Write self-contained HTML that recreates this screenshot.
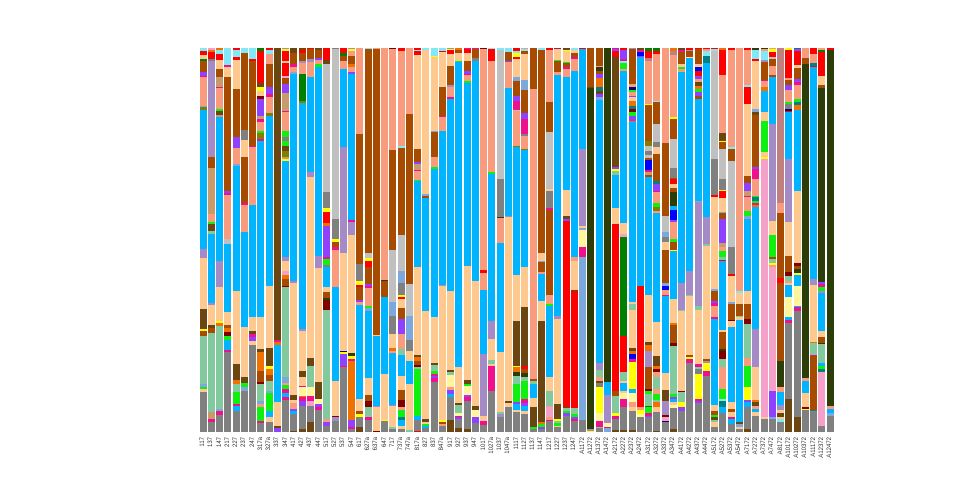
<!DOCTYPE html>
<html><head><meta charset="utf-8"><style>
body{margin:0;background:#fff;width:960px;height:480px;overflow:hidden;position:relative;font-family:"Liberation Sans",sans-serif}
#ch{position:absolute;left:199.7px;top:48px;display:grid;grid-template-columns:repeat(77,8.265px)}
.c{position:relative;height:383.7px}
.c>div{width:7px;height:383.7px;display:flex;flex-direction:column}
.c i{display:block;min-height:0}
.c span{position:absolute;top:388.5px;left:3.5px;writing-mode:vertical-rl;transform:translateX(-50%) rotate(180deg);font-size:6px;line-height:6px;color:#333;white-space:nowrap}
.g{background:#808080}.b{background:#00b4ff}.p{background:#fec98e}.s{background:#f99b7d}.o{background:#a64b00}.d{background:#6b4610}.e{background:#82c99e}.l{background:#a58bc5}.y{background:#c0c0c0}.t{background:#c89b6d}.r{background:#ff0000}.gr{background:#008000}.n{background:#10f010}.u{background:#9040ff}.m{background:#f0108c}.or{background:#f07000}.k{background:#2c3d07}.c{background:transparent}.cy{background:#80e8f6}.yw{background:#ffff00}.py{background:#fff59a}.pk{background:#f5a0c8}.dr{background:#800000}.ol{background:#808000}.cf{background:#7ca8dc}.bl{background:#0000ff}.tl{background:#008080}.rb{background:#c08080}.nv{background:#000080}
</style></head><body>
<div id="ch">
<div class=c><div><i class=cy style=flex:10></i><i class=r style=flex:10></i><i class=p style=flex:13></i><i class=gr style=flex:5></i><i class=o style=flex:35></i><i class=u style=flex:10></i><i class=m style=flex:5></i><i class=s style=flex:85></i><i class=cf style=flex:5></i><i class=ol style=flex:8></i><i class=b style=flex:417></i><i class=l style=flex:27></i><i class=p style=flex:153></i><i class=d style=flex:60></i><i class=yw style=flex:7></i><i class=o style=flex:13></i><i class=e style=flex:145></i><i class=cf style=flex:10></i><i class=n style=flex:5></i><i class=p style=flex:8></i><i class=g style=flex:120></i></div><span>117</span></div>
<div class=c><div><i class=pk style=flex:6></i><i class=or style=flex:7></i><i class=r style=flex:20></i><i class=g style=flex:5></i><i class=l style=flex:290></i><i class=o style=flex:32></i><i class=t style=flex:138></i><i class=s style=flex:25></i><i class=n style=flex:5></i><i class=d style=flex:20></i><i class=e style=flex:10></i><i class=b style=flex:208></i><i class=l style=flex:5></i><i class=p style=flex:60></i><i class=d style=flex:9></i><i class=o style=flex:15></i><i class=e style=flex:238></i><i class=t style=flex:20></i><i class=m style=flex:10></i><i class=g style=flex:28></i></div><span>137</span></div>
<div class=c><div><i class=or style=flex:6></i><i class=cy style=flex:12></i><i class=r style=flex:18></i><i class=p style=flex:27></i><i class=o style=flex:25></i><i class=t style=flex:28></i><i class=m style=flex:5></i><i class=s style=flex:62></i><i class=n style=flex:5></i><i class=d style=flex:13></i><i class=t style=flex:7></i><i class=b style=flex:430></i><i class=l style=flex:80></i><i class=p style=flex:100></i><i class=yw style=flex:8></i><i class=or style=flex:7></i><i class=e style=flex:250></i><i class=cf style=flex:5></i><i class=m style=flex:12></i><i class=g style=flex:51></i></div><span>147</span></div>
<div class=c><div><i class=cy style=flex:50></i><i class=m style=flex:8></i><i class=p style=flex:30></i><i class=o style=flex:340></i><i class=u style=flex:7></i><i class=m style=flex:6></i><i class=s style=flex:132></i><i class=y style=flex:15></i><i class=b style=flex:205></i><i class=p style=flex:38></i><i class=o style=flex:9></i><i class=or style=flex:13></i><i class=dr style=flex:10></i><i class=n style=flex:13></i><i class=b style=flex:30></i><i class=m style=flex:7></i><i class=g style=flex:238></i></div><span>217</span></div>
<div class=c><div><i class=r style=flex:6></i><i class=cy style=flex:20></i><i class=r style=flex:10></i><i class=p style=flex:87></i><i class=o style=flex:145></i><i class=u style=flex:32></i><i class=s style=flex:48></i><i class=cf style=flex:5></i><i class=b style=flex:375></i><i class=p style=flex:220></i><i class=d style=flex:48></i><i class=or style=flex:12></i><i class=e style=flex:23></i><i class=n style=flex:37></i><i class=m style=flex:5></i><i class=b style=flex:15></i><i class=g style=flex:63></i></div><span>227</span></div>
<div class=c><div><i class=cy style=flex:16></i><i class=o style=flex:230></i><i class=g style=flex:30></i><i class=p style=flex:52></i><i class=o style=flex:138></i><i class=m style=flex:5></i><i class=s style=flex:80></i><i class=b style=flex:285></i><i class=p style=flex:152></i><i class=d style=flex:18></i><i class=n style=flex:12></i><i class=cf style=flex:12></i><i class=g style=flex:121></i></div><span>237</span></div>
<div class=c><div><i class=cy style=flex:33></i><i class=r style=flex:7></i><i class=o style=flex:253></i><i class=m style=flex:5></i><i class=s style=flex:173></i><i class=b style=flex:337></i><i class=p style=flex:40></i><i class=d style=flex:10></i><i class=m style=flex:10></i><i class=u style=flex:10></i><i class=p style=flex:13></i><i class=g style=flex:260></i></div><span>247</span></div>
<div class=c><div><i class=gr style=flex:10></i><i class=r style=flex:96></i><i class=d style=flex:10></i><i class=yw style=flex:12></i><i class=p style=flex:15></i><i class=dr style=flex:10></i><i class=u style=flex:50></i><i class=t style=flex:10></i><i class=m style=flex:10></i><i class=s style=flex:25></i><i class=n style=flex:8></i><i class=ol style=flex:17></i><i class=m style=flex:7></i><i class=b style=flex:528></i><i class=p style=flex:95></i><i class=d style=flex:10></i><i class=or style=flex:55></i><i class=o style=flex:35></i><i class=dr style=flex:5></i><i class=e style=flex:52></i><i class=cf style=flex:8></i><i class=s style=flex:10></i><i class=n style=flex:40></i><i class=m style=flex:8></i><i class=g style=flex:25></i></div><span>317a</span></div>
<div class=c><div><i class=r style=flex:6></i><i class=cy style=flex:12></i><i class=s style=flex:30></i><i class=o style=flex:70></i><i class=u style=flex:20></i><i class=m style=flex:10></i><i class=s style=flex:48></i><i class=ol style=flex:7></i><i class=b style=flex:510></i><i class=p style=flex:187></i><i class=d style=flex:53></i><i class=yw style=flex:10></i><i class=or style=flex:17></i><i class=o style=flex:18></i><i class=e style=flex:30></i><i class=cf style=flex:7></i><i class=n style=flex:53></i><i class=b style=flex:18></i><i class=p style=flex:17></i><i class=g style=flex:28></i></div><span>327a</span></div>
<div class=c><div><i class=d style=flex:876></i><i class=m style=flex:7></i><i class=or style=flex:8></i><i class=b style=flex:172></i><i class=p style=flex:70></i><i class=d style=flex:8></i><i class=u style=flex:10></i></div><span>337</span></div>
<div class=c><div><i class=l style=flex:3></i><i class=yw style=flex:5></i><i class=r style=flex:32></i><i class=p style=flex:6></i><i class=r style=flex:37></i><i class=pk style=flex:8></i><i class=o style=flex:17></i><i class=u style=flex:28></i><i class=t style=flex:52></i><i class=m style=flex:5></i><i class=s style=flex:55></i><i class=n style=flex:20></i><i class=g style=flex:10></i><i class=n style=flex:15></i><i class=d style=flex:15></i><i class=ol style=flex:20></i><i class=t style=flex:5></i><i class=yw style=flex:7></i><i class=b style=flex:288></i><i class=l style=flex:12></i><i class=p style=flex:30></i><i class=pk style=flex:10></i><i class=or style=flex:13></i><i class=o style=flex:20></i><i class=dr style=flex:5></i><i class=e style=flex:270></i><i class=cf style=flex:18></i><i class=s style=flex:4></i><i class=n style=flex:13></i><i class=m style=flex:13></i><i class=b style=flex:10></i><i class=m style=flex:10></i><i class=g style=flex:95></i></div><span>347</span></div>
<div class=c><div><i class=d style=flex:16></i><i class=o style=flex:32></i><i class=m style=flex:8></i><i class=s style=flex:17></i><i class=cf style=flex:5></i><i class=b style=flex:620></i><i class=l style=flex:8></i><i class=p style=flex:335></i><i class=d style=flex:15></i><i class=p style=flex:10></i><i class=s style=flex:17></i><i class=u style=flex:5></i><i class=b style=flex:10></i><i class=g style=flex:50></i><i class=d style=flex:3></i></div><span>417</span></div>
<div class=c><div><i class=gr style=flex:3></i><i class=r style=flex:13></i><i class=o style=flex:22></i><i class=l style=flex:8></i><i class=s style=flex:32></i><i class=gr style=flex:82></i><i class=ol style=flex:6></i><i class=b style=flex:677></i><i class=l style=flex:7></i><i class=p style=flex:118></i><i class=d style=flex:20></i><i class=p style=flex:25></i><i class=m style=flex:5></i><i class=py style=flex:25></i><i class=or style=flex:5></i><i class=m style=flex:10></i><i class=u style=flex:15></i><i class=g style=flex:70></i><i class=d style=flex:8></i></div><span>427</span></div>
<div class=c><div><i class=r style=flex:3></i><i class=o style=flex:30></i><i class=l style=flex:10></i><i class=s style=flex:45></i><i class=b style=flex:285></i><i class=l style=flex:13></i><i class=p style=flex:544></i><i class=d style=flex:23></i><i class=e style=flex:63></i><i class=py style=flex:29></i><i class=m style=flex:13></i><i class=pk style=flex:15></i><i class=g style=flex:50></i><i class=d style=flex:28></i></div><span>437</span></div>
<div class=c><div><i class=d style=flex:6></i><i class=o style=flex:24></i><i class=u style=flex:6></i><i class=s style=flex:12></i><i class=n style=flex:8></i><i class=b style=flex:567></i><i class=l style=flex:37></i><i class=p style=flex:343></i><i class=d style=flex:50></i><i class=py style=flex:15></i><i class=u style=flex:10></i><i class=m style=flex:8></i><i class=g style=flex:65></i></div><span>447</span></div>
<div class=c><div><i class=r style=flex:36></i><i class=d style=flex:12></i><i class=y style=flex:385></i><i class=g style=flex:47></i><i class=yw style=flex:11></i><i class=r style=flex:35></i><i class=or style=flex:7></i><i class=u style=flex:95></i><i class=m style=flex:5></i><i class=n style=flex:17></i><i class=g style=flex:6></i><i class=b style=flex:62></i><i class=p style=flex:13></i><i class=o style=flex:19></i><i class=k style=flex:6></i><i class=dr style=flex:30></i><i class=e style=flex:327></i><i class=s style=flex:10></i><i class=u style=flex:10></i><i class=g style=flex:18></i></div><span>517</span></div>
<div class=c><div><i class=g style=flex:3></i><i class=y style=flex:510></i><i class=g style=flex:60></i><i class=yw style=flex:10></i><i class=o style=flex:15></i><i class=m style=flex:7></i><i class=s style=flex:113></i><i class=b style=flex:282></i><i class=p style=flex:103></i><i class=dr style=flex:5></i><i class=l style=flex:10></i><i class=g style=flex:33></i></div><span>527</span></div>
<div class=c><div><i class=r style=flex:16></i><i class=gr style=flex:7></i><i class=o style=flex:17></i><i class=s style=flex:23></i><i class=b style=flex:235></i><i class=l style=flex:318></i><i class=p style=flex:292></i><i class=nv style=flex:5></i><i class=yw style=flex:5></i><i class=u style=flex:35></i><i class=m style=flex:5></i><i class=g style=flex:193></i></div><span>537</span></div>
<div class=c><div><i class=l style=flex:3></i><i class=yw style=flex:7></i><i class=s style=flex:13></i><i class=o style=flex:25></i><i class=or style=flex:10></i><i class=s style=flex:15></i><i class=u style=flex:5></i><i class=b style=flex:438></i><i class=m style=flex:5></i><i class=l style=flex:40></i><i class=p style=flex:355></i><i class=k style=flex:7></i><i class=yw style=flex:10></i><i class=m style=flex:7></i><i class=or style=flex:176></i><i class=u style=flex:22></i><i class=m style=flex:5></i><i class=g style=flex:8></i></div><span>547</span></div>
<div class=c><div><i class=s style=flex:258></i><i class=o style=flex:390></i><i class=g style=flex:52></i><i class=yw style=flex:10></i><i class=r style=flex:6></i><i class=o style=flex:40></i><i class=u style=flex:7></i><i class=s style=flex:7></i><i class=b style=flex:283></i><i class=p style=flex:35></i><i class=o style=flex:10></i><i class=yw style=flex:10></i><i class=g style=flex:28></i><i class=d style=flex:15></i></div><span>617</span></div>
<div class=c><div><i class=cy style=flex:3></i><i class=o style=flex:613></i><i class=y style=flex:14></i><i class=yw style=flex:8></i><i class=r style=flex:18></i><i class=o style=flex:52></i><i class=u style=flex:5></i><i class=m style=flex:7></i><i class=s style=flex:53></i><i class=n style=flex:8></i><i class=cf style=flex:7></i><i class=b style=flex:202></i><i class=p style=flex:50></i><i class=o style=flex:18></i><i class=dr style=flex:18></i><i class=e style=flex:32></i><i class=m style=flex:8></i><i class=g style=flex:35></i></div><span>627a</span></div>
<div class=c><div><i class=s style=flex:3></i><i class=o style=flex:857></i><i class=p style=flex:3></i><i class=b style=flex:210></i><i class=l style=flex:5></i><i class=p style=flex:70></i><i class=dr style=flex:3></i></div><span>637a</span></div>
<div class=c><div><i class=s style=flex:696></i><i class=k style=flex:4></i><i class=o style=flex:48></i><i class=b style=flex:230></i><i class=p style=flex:138></i><i class=yw style=flex:4></i><i class=g style=flex:31></i></div><span>647</span></div>
<div class=c><div><i class=dr style=flex:3></i><i class=s style=flex:303></i><i class=o style=flex:300></i><i class=y style=flex:155></i><i class=cf style=flex:42></i><i class=g style=flex:55></i><i class=p style=flex:42></i><i class=or style=flex:8></i><i class=s style=flex:7></i><i class=b style=flex:156></i><i class=l style=flex:2></i><i class=p style=flex:65></i><i class=e style=flex:5></i><i class=g style=flex:8></i></div><span>717</span></div>
<div class=c><div><i class=r style=flex:10></i><i class=s style=flex:283></i><i class=cy style=flex:7></i><i class=o style=flex:260></i><i class=y style=flex:108></i><i class=cf style=flex:37></i><i class=g style=flex:35></i><i class=yw style=flex:8></i><i class=r style=flex:5></i><i class=p style=flex:27></i><i class=o style=flex:33></i><i class=u style=flex:45></i><i class=s style=flex:45></i><i class=e style=flex:17></i><i class=b style=flex:63></i><i class=p style=flex:43></i><i class=o style=flex:30></i><i class=dr style=flex:20></i><i class=s style=flex:10></i><i class=n style=flex:22></i><i class=tl style=flex:8></i><i class=b style=flex:17></i><i class=p style=flex:10></i><i class=g style=flex:8></i></div><span>737a</span></div>
<div class=c><div><i class=s style=flex:198></i><i class=o style=flex:510></i><i class=y style=flex:95></i><i class=cf style=flex:73></i><i class=g style=flex:34></i><i class=p style=flex:30></i><i class=b style=flex:68></i><i class=p style=flex:138></i><i class=e style=flex:5></i></div><span>747a</span></div>
<div class=c><div><i class=r style=flex:6></i><i class=cy style=flex:4></i><i class=r style=flex:10></i><i class=p style=flex:283></i><i class=o style=flex:38></i><i class=u style=flex:7></i><i class=t style=flex:18></i><i class=m style=flex:4></i><i class=s style=flex:25></i><i class=n style=flex:5></i><i class=b style=flex:258></i><i class=p style=flex:263></i><i class=d style=flex:5></i><i class=or style=flex:12></i><i class=o style=flex:12></i><i class=dr style=flex:6></i><i class=e style=flex:7></i><i class=n style=flex:140></i><i class=b style=flex:13></i><i class=g style=flex:32></i><i class=r style=flex:3></i></div><span>817a</span></div>
<div class=c><div><i class=cy style=flex:6></i><i class=p style=flex:432></i><i class=cf style=flex:5></i><i class=o style=flex:7></i><i class=b style=flex:340></i><i class=p style=flex:323></i><i class=d style=flex:10></i><i class=p style=flex:5></i><i class=n style=flex:5></i><i class=b style=flex:7></i><i class=g style=flex:11></i></div><span>827</span></div>
<div class=c><div><i class=cy style=flex:23></i><i class=yw style=flex:5></i><i class=p style=flex:222></i><i class=cf style=flex:3></i><i class=o style=flex:75></i><i class=s style=flex:28></i><i class=n style=flex:7></i><i class=b style=flex:443></i><i class=p style=flex:140></i><i class=d style=flex:4></i><i class=e style=flex:18></i><i class=n style=flex:10></i><i class=m style=flex:5></i><i class=u style=flex:8></i><i class=m style=flex:10></i><i class=g style=flex:150></i></div><span>837</span></div>
<div class=c><div><i class=cy style=flex:10></i><i class=r style=flex:3></i><i class=p style=flex:103></i><i class=o style=flex:87></i><i class=m style=flex:5></i><i class=s style=flex:40></i><i class=b style=flex:462></i><i class=l style=flex:3></i><i class=p style=flex:403></i><i class=yw style=flex:7></i><i class=o style=flex:5></i><i class=s style=flex:5></i><i class=g style=flex:18></i></div><span>847a</span></div>
<div class=c><div><i class=l style=flex:3></i><i class=yw style=flex:3></i><i class=r style=flex:12></i><i class=p style=flex:35></i><i class=o style=flex:57></i><i class=l style=flex:6></i><i class=s style=flex:32></i><i class=m style=flex:5></i><i class=b style=flex:577></i><i class=p style=flex:236></i><i class=d style=flex:7></i><i class=e style=flex:7></i><i class=py style=flex:36></i><i class=s style=flex:10></i><i class=u style=flex:12></i><i class=b style=flex:8></i><i class=g style=flex:70></i><i class=d style=flex:35></i></div><span>917</span></div>
<div class=c><div><i class=or style=flex:6></i><i class=o style=flex:10></i><i class=p style=flex:22></i><i class=n style=flex:3></i><i class=b style=flex:917></i><i class=p style=flex:108></i><i class=d style=flex:5></i><i class=e style=flex:25></i><i class=py style=flex:7></i><i class=m style=flex:3></i><i class=u style=flex:7></i><i class=g style=flex:27></i><i class=d style=flex:11></i></div><span>927</span></div>
<div class=c><div><i class=m style=flex:3></i><i class=r style=flex:13></i><i class=p style=flex:24></i><i class=o style=flex:30></i><i class=u style=flex:8></i><i class=m style=flex:2></i><i class=s style=flex:20></i><i class=n style=flex:6></i><i class=b style=flex:547></i><i class=p style=flex:343></i><i class=d style=flex:12></i><i class=n style=flex:5></i><i class=py style=flex:27></i><i class=u style=flex:6></i><i class=m style=flex:14></i><i class=g style=flex:83></i><i class=d style=flex:8></i></div><span>937</span></div>
<div class=c><div><i class=m style=flex:3></i><i class=o style=flex:27></i><i class=g style=flex:8></i><i class=b style=flex:662></i><i class=p style=flex:373></i><i class=d style=flex:13></i><i class=py style=flex:22></i><i class=u style=flex:18></i><i class=g style=flex:25></i></div><span>947</span></div>
<div class=c><div><i class=dr style=flex:3></i><i class=s style=flex:663></i><i class=r style=flex:10></i><i class=s style=flex:50></i><i class=b style=flex:192></i><i class=l style=flex:185></i><i class=p style=flex:15></i><i class=m style=flex:13></i><i class=g style=flex:20></i></div><span>1017</span></div>
<div class=c><div><i class=cy style=flex:3></i><i class=r style=flex:35></i><i class=s style=flex:333></i><i class=n style=flex:7></i><i class=b style=flex:442></i><i class=l style=flex:53></i><i class=p style=flex:63></i><i class=e style=flex:12></i><i class=p style=flex:5></i><i class=m style=flex:75></i><i class=g style=flex:123></i></div><span>1027a</span></div>
<div class=c><div><i class=cy style=flex:6></i><i class=y style=flex:387></i><i class=g style=flex:113></i><i class=k style=flex:4></i><i class=s style=flex:76></i><i class=b style=flex:327></i><i class=p style=flex:180></i><i class=e style=flex:5></i><i class=l style=flex:10></i><i class=g style=flex:43></i></div><span>1037</span></div>
<div class=c><div><i class=cy style=flex:13></i><i class=o style=flex:25></i><i class=u style=flex:5></i><i class=s style=flex:77></i><i class=b style=flex:383></i><i class=l style=flex:5></i><i class=p style=flex:552></i><i class=d style=flex:6></i><i class=p style=flex:10></i><i class=g style=flex:75></i></div><span>1047a</span></div>
<div class=c><div><i class=r style=flex:10></i><i class=cy style=flex:6></i><i class=yw style=flex:10></i><i class=r style=flex:7></i><i class=p style=flex:53></i><i class=cf style=flex:14></i><i class=o style=flex:43></i><i class=u style=flex:15></i><i class=m style=flex:28></i><i class=y style=flex:4></i><i class=s style=flex:103></i><i class=ol style=flex:5></i><i class=b style=flex:382></i><i class=p style=flex:138></i><i class=d style=flex:135></i><i class=yw style=flex:5></i><i class=or style=flex:15></i><i class=k style=flex:10></i><i class=e style=flex:25></i><i class=n style=flex:55></i><i class=u style=flex:5></i><i class=b style=flex:18></i><i class=p style=flex:7></i><i class=g style=flex:58></i></div><span>1117</span></div>
<div class=c><div><i class=s style=flex:3></i><i class=cy style=flex:7></i><i class=o style=flex:8></i><i class=p style=flex:78></i><i class=cf style=flex:30></i><i class=o style=flex:70></i><i class=u style=flex:17></i><i class=m style=flex:45></i><i class=g style=flex:5></i><i class=s style=flex:40></i><i class=ol style=flex:3></i><i class=b style=flex:350></i><i class=p style=flex:122></i><i class=d style=flex:175></i><i class=r style=flex:10></i><i class=o style=flex:13></i><i class=k style=flex:12></i><i class=e style=flex:12></i><i class=n style=flex:53></i><i class=m style=flex:13></i><i class=u style=flex:7></i><i class=b style=flex:15></i><i class=p style=flex:10></i><i class=g style=flex:53></i></div><span>1127</span></div>
<div class=c><div><i class=o style=flex:123></i><i class=s style=flex:870></i><i class=o style=flex:7></i><i class=e style=flex:8></i><i class=b style=flex:42></i><i class=p style=flex:26></i><i class=d style=flex:62></i><i class=n style=flex:5></i><i class=g style=flex:8></i></div><span>1137</span></div>
<div class=c><div><i class=cy style=flex:6></i><i class=o style=flex:610></i><i class=p style=flex:22></i><i class=cf style=flex:5></i><i class=o style=flex:30></i><i class=s style=flex:5></i><i class=b style=flex:80></i><i class=p style=flex:60></i><i class=d style=flex:305></i><i class=or style=flex:5></i><i class=n style=flex:10></i><i class=u style=flex:5></i><i class=g style=flex:8></i></div><span>1147</span></div>
<div class=c><div><i class=r style=flex:6></i><i class=s style=flex:157></i><i class=o style=flex:90></i><i class=y style=flex:170></i><i class=p style=flex:5></i><i class=g style=flex:52></i><i class=m style=flex:5></i><i class=o style=flex:255></i><i class=s style=flex:28></i><i class=n style=flex:5></i><i class=b style=flex:215></i><i class=p style=flex:40></i><i class=e style=flex:45></i><i class=s style=flex:5></i><i class=pk style=flex:28></i><i class=s style=flex:10></i><i class=m style=flex:4></i><i class=g style=flex:31></i></div><span>1217</span></div>
<div class=c><div><i class=r style=flex:3></i><i class=cy style=flex:3></i><i class=p style=flex:30></i><i class=n style=flex:4></i><i class=o style=flex:33></i><i class=s style=flex:7></i><i class=b style=flex:723></i><i class=l style=flex:10></i><i class=p style=flex:255></i><i class=d style=flex:45></i><i class=yw style=flex:5></i><i class=e style=flex:8></i><i class=n style=flex:7></i><i class=p style=flex:5></i><i class=g style=flex:13></i></div><span>1227</span></div>
<div class=c><div><i class=d style=flex:6></i><i class=yw style=flex:4></i><i class=p style=flex:33></i><i class=n style=flex:3></i><i class=o style=flex:12></i><i class=m style=flex:5></i><i class=s style=flex:25></i><i class=b style=flex:338></i><i class=p style=flex:77></i><i class=d style=flex:10></i><i class=u style=flex:5></i><i class=r style=flex:558></i><i class=d style=flex:4></i><i class=e style=flex:8></i><i class=n style=flex:8></i><i class=u style=flex:7></i><i class=g style=flex:48></i></div><span>1237</span></div>
<div class=c><div><i class=cy style=flex:6></i><i class=p style=flex:10></i><i class=o style=flex:10></i><i class=m style=flex:7></i><i class=s style=flex:37></i><i class=b style=flex:558></i><i class=s style=flex:10></i><i class=p style=flex:88></i><i class=d style=flex:4></i><i class=r style=flex:350></i><i class=e style=flex:18></i><i class=n style=flex:8></i><i class=u style=flex:7></i><i class=m style=flex:5></i><i class=g style=flex:33></i></div><span>1247</span></div>
<div class=c><div><i class=r style=flex:3></i><i class=b style=flex:300></i><i class=l style=flex:230></i><i class=p style=flex:7></i><i class=cf style=flex:6></i><i class=py style=flex:52></i><i class=m style=flex:30></i><i class=cf style=flex:488></i><i class=g style=flex:35></i></div><span>A1172</span></div>
<div class=c><div><i class=o style=flex:116></i><i class=d style=flex:4></i><i class=k style=flex:1023></i><i class=l style=flex:5></i><i class=yw style=flex:3></i></div><span>A1272</span></div>
<div class=c><div><i class=o style=flex:53></i><i class=s style=flex:5></i><i class=k style=flex:10></i><i class=o style=flex:10></i><i class=u style=flex:12></i><i class=or style=flex:28></i><i class=tl style=flex:10></i><i class=d style=flex:10></i><i class=u style=flex:10></i><i class=cf style=flex:8></i><i class=b style=flex:790></i><i class=l style=flex:20></i><i class=e style=flex:22></i><i class=s style=flex:10></i><i class=d style=flex:8></i><i class=g style=flex:10></i><i class=yw style=flex:80></i><i class=py style=flex:22></i><i class=m style=flex:18></i><i class=e style=flex:5></i><i class=g style=flex:10></i></div><span>A1372</span></div>
<div class=c><div><i class=k style=flex:1003></i><i class=b style=flex:37></i><i class=l style=flex:86></i><i class=py style=flex:10></i><i class=m style=flex:4></i><i class=cf style=flex:11></i></div><span>A1472</span></div>
<div class=c><div><i class=m style=flex:3></i><i class=u style=flex:7></i><i class=r style=flex:16></i><i class=d style=flex:330></i><i class=u style=flex:7></i><i class=yw style=flex:5></i><i class=e style=flex:12></i><i class=b style=flex:100></i><i class=p style=flex:48></i><i class=r style=flex:500></i><i class=o style=flex:15></i><i class=e style=flex:53></i><i class=yw style=flex:7></i><i class=m style=flex:10></i><i class=g style=flex:33></i><i class=d style=flex:5></i></div><span>A2172</span></div>
<div class=c><div><i class=r style=flex:6></i><i class=u style=flex:27></i><i class=m style=flex:7></i><i class=cy style=flex:6></i><i class=n style=flex:17></i><i class=s style=flex:5></i><i class=b style=flex:457></i><i class=p style=flex:33></i><i class=pk style=flex:8></i><i class=gr style=flex:297></i><i class=r style=flex:110></i><i class=e style=flex:25></i><i class=p style=flex:8></i><i class=b style=flex:24></i><i class=p style=flex:6></i><i class=py style=flex:17></i><i class=m style=flex:23></i><i class=g style=flex:70></i><i class=d style=flex:5></i></div><span>A2272</span></div>
<div class=c><div><i class=l style=flex:3></i><i class=o style=flex:105></i><i class=s style=flex:8></i><i class=nv style=flex:10></i><i class=n style=flex:7></i><i class=s style=flex:10></i><i class=u style=flex:5></i><i class=p style=flex:10></i><i class=or style=flex:15></i><i class=tl style=flex:10></i><i class=dr style=flex:10></i><i class=n style=flex:10></i><i class=u style=flex:15></i><i class=or style=flex:5></i><i class=b style=flex:540></i><i class=p style=flex:5></i><i class=e style=flex:18></i><i class=p style=flex:114></i><i class=d style=flex:8></i><i class=or style=flex:10></i><i class=bl style=flex:15></i><i class=m style=flex:10></i><i class=yw style=flex:80></i><i class=b style=flex:13></i><i class=py style=flex:27></i><i class=s style=flex:15></i><i class=p style=flex:10></i><i class=g style=flex:58></i><i class=d style=flex:5></i></div><span>A2372</span></div>
<div class=c><div><i class=d style=flex:6></i><i class=m style=flex:7></i><i class=bl style=flex:10></i><i class=u style=flex:5></i><i class=b style=flex:685></i><i class=r style=flex:365></i><i class=s style=flex:8></i><i class=yw style=flex:12></i><i class=py style=flex:8></i><i class=g style=flex:45></i></div><span>A2472</span></div>
<div class=c><div><i class=gr style=flex:10></i><i class=r style=flex:20></i><i class=rb style=flex:10></i><i class=s style=flex:128></i><i class=yw style=flex:2></i><i class=o style=flex:108></i><i class=ol style=flex:15></i><i class=y style=flex:15></i><i class=g style=flex:12></i><i class=y style=flex:10></i><i class=o style=flex:6></i><i class=bl style=flex:30></i><i class=m style=flex:7></i><i class=t style=flex:7></i><i class=o style=flex:6></i><i class=b style=flex:354></i><i class=p style=flex:141></i><i class=d style=flex:10></i><i class=or style=flex:17></i><i class=l style=flex:48></i><i class=o style=flex:67></i><i class=dr style=flex:7></i><i class=n style=flex:8></i><i class=e style=flex:35></i><i class=gr style=flex:5></i><i class=n style=flex:18></i><i class=m style=flex:7></i><i class=u style=flex:5></i><i class=g style=flex:43></i></div><span>A3172</span></div>
<div class=c><div><i class=gr style=flex:10></i><i class=r style=flex:8></i><i class=s style=flex:140></i><i class=cy style=flex:5></i><i class=o style=flex:65></i><i class=y style=flex:55></i><i class=g style=flex:15></i><i class=p style=flex:20></i><i class=o style=flex:80></i><i class=tl style=flex:10></i><i class=u style=flex:20></i><i class=m style=flex:5></i><i class=s style=flex:33></i><i class=n style=flex:12></i><i class=ol style=flex:10></i><i class=s style=flex:8></i><i class=b style=flex:327></i><i class=p style=flex:100></i><i class=d style=flex:30></i><i class=or style=flex:10></i><i class=dr style=flex:10></i><i class=s style=flex:15></i><i class=e style=flex:35></i><i class=s style=flex:15></i><i class=n style=flex:18></i><i class=e style=flex:7></i><i class=or style=flex:15></i><i class=p style=flex:15></i><i class=g style=flex:55></i><i class=d style=flex:3></i></div><span>A3272</span></div>
<div class=c><div><i class=s style=flex:286></i><i class=o style=flex:217></i><i class=y style=flex:50></i><i class=cf style=flex:13></i><i class=g style=flex:17></i><i class=p style=flex:23></i><i class=o style=flex:100></i><i class=cf style=flex:7></i><i class=bl style=flex:13></i><i class=s style=flex:14></i><i class=m style=flex:3></i><i class=b style=flex:233></i><i class=p style=flex:50></i><i class=d style=flex:32></i><i class=l style=flex:42></i><i class=dr style=flex:8></i><i class=pk style=flex:10></i><i class=nv style=flex:5></i><i class=g style=flex:28></i></div><span>A3372</span></div>
<div class=c><div><i class=or style=flex:8></i><i class=rb style=flex:13></i><i class=s style=flex:187></i><i class=yw style=flex:5></i><i class=o style=flex:60></i><i class=y style=flex:87></i><i class=g style=flex:30></i><i class=o style=flex:3></i><i class=r style=flex:15></i><i class=p style=flex:12></i><i class=o style=flex:13></i><i class=k style=flex:42></i><i class=b style=flex:11></i><i class=bl style=flex:30></i><i class=u style=flex:7></i><i class=s style=flex:50></i><i class=n style=flex:10></i><i class=o style=flex:23></i><i class=yw style=flex:4></i><i class=b style=flex:143></i><i class=p style=flex:73></i><i class=or style=flex:5></i><i class=o style=flex:55></i><i class=dr style=flex:7></i><i class=e style=flex:145></i><i class=n style=flex:10></i><i class=u style=flex:5></i><i class=b style=flex:10></i><i class=p style=flex:8></i><i class=py style=flex:9></i><i class=g style=flex:63></i><i class=d style=flex:8></i></div><span>A3472</span></div>
<div class=c><div><i class=d style=flex:6></i><i class=m style=flex:7></i><i class=o style=flex:35></i><i class=p style=flex:8></i><i class=n style=flex:7></i><i class=s style=flex:10></i><i class=b style=flex:633></i><i class=l style=flex:80></i><i class=e style=flex:2></i><i class=p style=flex:240></i><i class=dr style=flex:5></i><i class=e style=flex:30></i><i class=yw style=flex:13></i><i class=u style=flex:14></i><i class=g style=flex:61></i></div><span>A4172</span></div>
<div class=c><div><i class=r style=flex:6></i><i class=l style=flex:2></i><i class=o style=flex:15></i><i class=m style=flex:3></i><i class=yw style=flex:4></i><i class=b style=flex:638></i><i class=l style=flex:72></i><i class=e style=flex:4></i><i class=p style=flex:176></i><i class=o style=flex:8></i><i class=yw style=flex:5></i><i class=m style=flex:13></i><i class=g style=flex:205></i></div><span>A4272</span></div>
<div class=c><div><i class=r style=flex:3></i><i class=o style=flex:45></i><i class=p style=flex:10></i><i class=bl style=flex:12></i><i class=r style=flex:13></i><i class=u style=flex:10></i><i class=s style=flex:10></i><i class=d style=flex:10></i><i class=or style=flex:10></i><i class=n style=flex:10></i><i class=u style=flex:10></i><i class=o style=flex:10></i><i class=b style=flex:305></i><i class=cf style=flex:5></i><i class=l style=flex:310></i><i class=e style=flex:13></i><i class=p style=flex:162></i><i class=m style=flex:8></i><i class=e style=flex:7></i><i class=g style=flex:15></i><i class=yw style=flex:75></i><i class=m style=flex:5></i><i class=u style=flex:8></i><i class=g style=flex:85></i></div><span>A4372</span></div>
<div class=c><div><i class=r style=flex:3></i><i class=s style=flex:7></i><i class=cy style=flex:13></i><i class=tl style=flex:23></i><i class=b style=flex:462></i><i class=l style=flex:80></i><i class=e style=flex:5></i><i class=p style=flex:340></i><i class=o style=flex:7></i><i class=l style=flex:6></i><i class=yw style=flex:24></i><i class=m style=flex:13></i><i class=g style=flex:168></i></div><span>A4472</span></div>
<div class=c><div><i class=r style=flex:3></i><i class=cy style=flex:7></i><i class=y style=flex:323></i><i class=g style=flex:107></i><i class=r style=flex:6></i><i class=p style=flex:277></i><i class=cf style=flex:7></i><i class=o style=flex:30></i><i class=u style=flex:6></i><i class=m style=flex:7></i><i class=s style=flex:35></i><i class=m style=flex:5></i><i class=b style=flex:257></i><i class=p style=flex:18></i><i class=o style=flex:12></i><i class=n style=flex:6></i><i class=d style=flex:10></i><i class=e style=flex:7></i><i class=p style=flex:13></i><i class=g style=flex:15></i></div><span>A5172</span></div>
<div class=c><div><i class=or style=flex:6></i><i class=r style=flex:74></i><i class=s style=flex:176></i><i class=d style=flex:24></i><i class=yw style=flex:3></i><i class=o style=flex:20></i><i class=y style=flex:90></i><i class=g style=flex:33></i><i class=yw style=flex:2></i><i class=r style=flex:22></i><i class=p style=flex:43></i><i class=cf style=flex:3></i><i class=o style=flex:17></i><i class=u style=flex:72></i><i class=t style=flex:11></i><i class=s style=flex:12></i><i class=n style=flex:20></i><i class=e style=flex:8></i><i class=r style=flex:4></i><i class=b style=flex:206></i><i class=p style=flex:5></i><i class=o style=flex:52></i><i class=k style=flex:7></i><i class=dr style=flex:23></i><i class=e style=flex:25></i><i class=s style=flex:65></i><i class=n style=flex:30></i><i class=cy style=flex:5></i><i class=tl style=flex:20></i><i class=b style=flex:18></i><i class=g style=flex:55></i></div><span>A5272</span></div>
<div class=c><div><i class=r style=flex:6></i><i class=s style=flex:290></i><i class=cy style=flex:7></i><i class=o style=flex:35></i><i class=y style=flex:258></i><i class=g style=flex:82></i><i class=r style=flex:7></i><i class=p style=flex:78></i><i class=cf style=flex:5></i><i class=o style=flex:48></i><i class=dr style=flex:4></i><i class=p style=flex:16></i><i class=b style=flex:227></i><i class=p style=flex:20></i><i class=o style=flex:10></i><i class=p style=flex:13></i><i class=m style=flex:7></i><i class=b style=flex:15></i><i class=g style=flex:23></i></div><span>A5372</span></div>
<div class=c><div><i class=s style=flex:728></i><i class=cy style=flex:8></i><i class=p style=flex:32></i><i class=o style=flex:35></i><i class=e style=flex:5></i><i class=p style=flex:8></i><i class=b style=flex:307></i><i class=d style=flex:5></i><i class=cf style=flex:10></i><i class=p style=flex:5></i><i class=g style=flex:8></i></div><span>A5472</span></div>
<div class=c><div><i class=r style=flex:6></i><i class=s style=flex:104></i><i class=cy style=flex:8></i><i class=r style=flex:50></i><i class=p style=flex:215></i><i class=o style=flex:23></i><i class=u style=flex:22></i><i class=t style=flex:15></i><i class=m style=flex:5></i><i class=s style=flex:42></i><i class=n style=flex:13></i><i class=cf style=flex:10></i><i class=b style=flex:215></i><i class=p style=flex:40></i><i class=o style=flex:45></i><i class=dr style=flex:15></i><i class=e style=flex:102></i><i class=s style=flex:23></i><i class=n style=flex:63></i><i class=yw style=flex:40></i><i class=u style=flex:7></i><i class=b style=flex:13></i><i class=g style=flex:67></i><i class=d style=flex:8></i></div><span>A7172</span></div>
<div class=c><div><i class=k style=flex:6></i><i class=cy style=flex:27></i><i class=r style=flex:7></i><i class=p style=flex:143></i><i class=cf style=flex:10></i><i class=d style=flex:7></i><i class=o style=flex:156></i><i class=u style=flex:7></i><i class=m style=flex:30></i><i class=s style=flex:50></i><i class=n style=flex:5></i><i class=tl style=flex:10></i><i class=n style=flex:8></i><i class=m style=flex:6></i><i class=or style=flex:6></i><i class=b style=flex:365></i><i class=l style=flex:115></i><i class=p style=flex:98></i><i class=or style=flex:7></i><i class=d style=flex:10></i><i class=s style=flex:10></i><i class=b style=flex:10></i><i class=p style=flex:10></i><i class=g style=flex:48></i></div><span>A7272</span></div>
<div class=c><div><i class=k style=flex:3></i><i class=s style=flex:7></i><i class=cy style=flex:26></i><i class=l style=flex:7></i><i class=o style=flex:53></i><i class=m style=flex:4></i><i class=s style=flex:18></i><i class=or style=flex:10></i><i class=b style=flex:65></i><i class=p style=flex:27></i><i class=n style=flex:93></i><i class=p style=flex:15></i><i class=yw style=flex:5></i><i class=pk style=flex:773></i><i class=p style=flex:7></i><i class=g style=flex:38></i></div><span>A7372</span></div>
<div class=c><div><i class=s style=flex:3></i><i class=yw style=flex:10></i><i class=r style=flex:15></i><i class=y style=flex:5></i><i class=o style=flex:20></i><i class=s style=flex:27></i><i class=o style=flex:8></i><i class=b style=flex:140></i><i class=l style=flex:290></i><i class=p style=flex:42></i><i class=n style=flex:66></i><i class=o style=flex:7></i><i class=e style=flex:13></i><i class=yw style=flex:4></i><i class=s style=flex:6></i><i class=pk style=flex:372></i><i class=u style=flex:78></i><i class=cf style=flex:7></i><i class=g style=flex:38></i></div><span>A7472</span></div>
<div class=c><div><i class=rb style=flex:466></i><i class=s style=flex:29></i><i class=o style=flex:195></i><i class=r style=flex:16></i><i class=o style=flex:232></i><i class=k style=flex:78></i><i class=s style=flex:15></i><i class=b style=flex:40></i><i class=l style=flex:15></i><i class=p style=flex:10></i><i class=d style=flex:10></i><i class=p style=flex:7></i><i class=cy style=flex:10></i><i class=g style=flex:28></i></div><span>A8172</span></div>
<div class=c><div><i class=yw style=flex:6></i><i class=r style=flex:84></i><i class=s style=flex:6></i><i class=o style=flex:15></i><i class=u style=flex:14></i><i class=s style=flex:38></i><i class=n style=flex:5></i><i class=g style=flex:15></i><i class=nv style=flex:5></i><i class=r style=flex:5></i><i class=b style=flex:140></i><i class=l style=flex:190></i><i class=p style=flex:100></i><i class=o style=flex:50></i><i class=dr style=flex:10></i><i class=e style=flex:15></i><i class=s style=flex:8></i><i class=p style=flex:4></i><i class=b style=flex:38></i><i class=py style=flex:60></i><i class=b style=flex:8></i><i class=m style=flex:10></i><i class=g style=flex:227></i><i class=d style=flex:98></i></div><span>A10172</span></div>
<div class=c><div><i class=tl style=flex:3></i><i class=u style=flex:5></i><i class=r style=flex:42></i><i class=p style=flex:10></i><i class=o style=flex:33></i><i class=u style=flex:10></i><i class=m style=flex:7></i><i class=s style=flex:43></i><i class=n style=flex:10></i><i class=tl style=flex:8></i><i class=or style=flex:15></i><i class=b style=flex:244></i><i class=p style=flex:216></i><i class=dr style=flex:7></i><i class=o style=flex:10></i><i class=k style=flex:13></i><i class=yw style=flex:4></i><i class=b style=flex:33></i><i class=py style=flex:60></i><i class=b style=flex:5></i><i class=m style=flex:10></i><i class=g style=flex:320></i><i class=d style=flex:43></i></div><span>A10272</span></div>
<div class=c><div><i class=s style=flex:30></i><i class=o style=flex:18></i><i class=k style=flex:942></i><i class=s style=flex:10></i><i class=b style=flex:36></i><i class=p style=flex:42></i><i class=dr style=flex:4></i><i class=yw style=flex:4></i><i class=g style=flex:65></i></div><span>A10372</span></div>
<div class=c><div><i class=r style=flex:18></i><i class=s style=flex:28></i><i class=tl style=flex:7></i><i class=r style=flex:5></i><i class=b style=flex:635></i><i class=l style=flex:17></i><i class=p style=flex:171></i><i class=or style=flex:4></i><i class=e style=flex:35></i><i class=m style=flex:5></i><i class=o style=flex:165></i><i class=b style=flex:3></i><i class=g style=flex:58></i></div><span>A11172</span></div>
<div class=c><div><i class=s style=flex:6></i><i class=gr style=flex:7></i><i class=r style=flex:70></i><i class=p style=flex:27></i><i class=o style=flex:10></i><i class=k style=flex:583></i><i class=u style=flex:5></i><i class=m style=flex:10></i><i class=n style=flex:12></i><i class=l style=flex:6></i><i class=b style=flex:114></i><i class=p style=flex:16></i><i class=o style=flex:19></i><i class=k style=flex:3></i><i class=e style=flex:58></i><i class=b style=flex:7></i><i class=n style=flex:10></i><i class=tl style=flex:10></i><i class=pk style=flex:160></i><i class=g style=flex:18></i></div><span>A12372</span></div>
<div class=c><div><i class=r style=flex:6></i><i class=k style=flex:1067></i><i class=s style=flex:10></i><i class=b style=flex:13></i><i class=cf style=flex:7></i><i class=g style=flex:48></i></div><span>A12472</span></div>
</div>
</body></html>
